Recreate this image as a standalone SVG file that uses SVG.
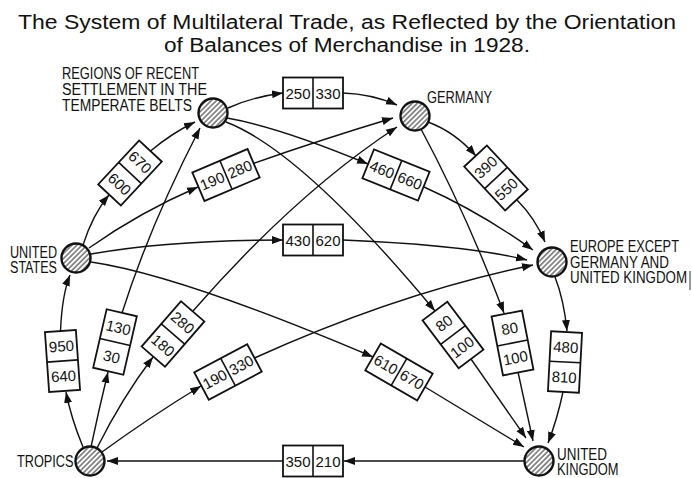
<svg xmlns="http://www.w3.org/2000/svg" width="692" height="478" viewBox="0 0 692 478">
<style>
.t{font-family:"Liberation Sans",Arial,sans-serif;fill:#111}
.title{font-size:20px}
.lab{font-size:16px}
.bx rect{fill:#fff;stroke:#111;stroke-width:1.8}
.bx line{stroke:#111;stroke-width:1.6}
.bx text{font-family:"Liberation Sans",Arial,sans-serif;font-size:15px;text-anchor:middle;fill:#111}
.c path{fill:none;stroke:#111;stroke-width:1.4}
.ar{marker-end:url(#ah)}
.node circle{fill:url(#hatch);stroke:#111;stroke-width:2.4}
</style>
<defs>
<pattern id="hatch" patternUnits="userSpaceOnUse" width="3.6" height="3.6" patternTransform="rotate(45)">
<rect width="3.6" height="3.6" fill="#fff"/>
<line x1="0.9" y1="0" x2="0.9" y2="3.6" stroke="#555" stroke-width="1.3"/>
</pattern>
<marker id="ah" markerUnits="userSpaceOnUse" markerWidth="12" markerHeight="10" refX="11" refY="4.5" orient="auto">
<path d="M0,0.5 L11,4.5 L0,8.5 z" fill="#111"/>
</marker>
</defs>
<rect width="692" height="478" fill="#fff"/>
<g id="title" class="t title">
<text x="18" y="29" textLength="658" lengthAdjust="spacingAndGlyphs">The System of Multilateral Trade, as Reflected by the Orientation</text>
<text x="164" y="52" textLength="366" lengthAdjust="spacingAndGlyphs">of Balances of Merchandise in 1928.</text>
</g>
<g id="connectors" class="c">
<path class="ar" d="M228,108 Q252,97 283,93"/>
<path class="ar" d="M343,93 Q372,94 397,105"/>
<path class="ar" d="M227,118 Q279,127 368,164"/>
<path class="ar" d="M424,187 Q480,212 533,250"/>
<path class="ar" d="M226,122 Q302,151 435,311"/>
<path class="ar" d="M471,359 L526,438"/>
<path class="ar" d="M428,122 Q455,132 476,156"/>
<path class="ar" d="M517,200 Q535,218 545,242"/>
<path class="ar" d="M421,129 Q466,213 504,313"/>
<path class="ar" d="M518,372 L533,441"/>
<path class="ar" d="M555,277 Q564,300 567,331"/>
<path class="ar" d="M563,392 Q557,420 548,443"/>
<path class="ar" d="M83,245 Q93,214 109,195"/>
<path class="ar" d="M150.5,151 Q172,133 195,122"/>
<path class="ar" d="M89,248 Q140,212 198,187"/>
<path class="ar" d="M253.6,163.3 Q320,140 393,118"/>
<path class="ar" d="M91,254 Q170,240 283,240"/>
<path class="ar" d="M343,240 Q466,245 527,260"/>
<path class="ar" d="M91,262 Q180,275 373,357"/>
<path class="ar" d="M425,387 L524,447"/>
<path class="ar" d="M83,447 Q71,418 66,392"/>
<path class="ar" d="M60.5,331 Q62,295 70,275"/>
<path class="ar" d="M91,447 Q99,409 108,372"/>
<path class="ar" d="M122,313 Q150,225 200,128"/>
<path class="ar" d="M97,448 Q122,398 153,357"/>
<path class="ar" d="M193,311 Q296,193 397,127"/>
<path class="ar" d="M102,452 Q150,417 201,386"/>
<path class="ar" d="M254.5,358 Q398,293 533,265"/>
<path class="ar" d="M524,461 L344,461"/>
<path class="ar" d="M283,461 L107,461"/>
</g>
<g id="boxes">
<g id="b-r-g" class="bx" transform="translate(313,93)"><rect x="-30" y="-15.5" width="60" height="31"/><line x1="0" y1="-15.5" x2="0" y2="15.5"/><text x="-15" y="5.5">250</text><text x="15" y="5.5">330</text></g>
<g id="b-r-e" class="bx" transform="translate(396,175) rotate(22)"><rect x="-30" y="-15.5" width="60" height="31"/><line x1="0" y1="-15.5" x2="0" y2="15.5"/><text x="-15" y="5.5">460</text><text x="15" y="5.5">660</text></g>
<g id="b-r-uk" class="bx" transform="translate(453,335) rotate(-37)"><rect x="-15.5" y="-30" width="31" height="60"/><line x1="-15.5" y1="0" x2="15.5" y2="0"/><text x="0" y="-9.5">80</text><text x="0" y="20.5">100</text></g>
<g id="b-g-e" class="bx" transform="translate(496,178) rotate(-43)"><rect x="-15.5" y="-30" width="31" height="60"/><line x1="-15.5" y1="0" x2="15.5" y2="0"/><text x="0" y="-9.5">390</text><text x="0" y="20.5">550</text></g>
<g id="b-g-uk" class="bx" transform="translate(512.5,343) rotate(-11)"><rect x="-15.5" y="-30" width="31" height="60"/><line x1="-15.5" y1="0" x2="15.5" y2="0"/><text x="0" y="-9.5">80</text><text x="0" y="20.5">100</text></g>
<g id="b-e-uk" class="bx" transform="translate(565,362) rotate(3)"><rect x="-15.5" y="-30" width="31" height="60"/><line x1="-15.5" y1="0" x2="15.5" y2="0"/><text x="0" y="-9.5">480</text><text x="0" y="20.5">810</text></g>
<g id="b-us-r" class="bx" transform="translate(130,173) rotate(43)"><rect x="-15.5" y="-30" width="31" height="60"/><line x1="-15.5" y1="0" x2="15.5" y2="0"/><text x="0" y="-9.5">670</text><text x="0" y="20.5">600</text></g>
<g id="b-us-g" class="bx" transform="translate(226,175) rotate(-23)"><rect x="-30" y="-15.5" width="60" height="31"/><line x1="0" y1="-15.5" x2="0" y2="15.5"/><text x="-15" y="5.5">190</text><text x="15" y="5.5">280</text></g>
<g id="b-us-e" class="bx" transform="translate(313,240)"><rect x="-30" y="-15.5" width="60" height="31"/><line x1="0" y1="-15.5" x2="0" y2="15.5"/><text x="-15" y="5.5">430</text><text x="15" y="5.5">620</text></g>
<g id="b-us-uk" class="bx" transform="translate(399,372) rotate(30)"><rect x="-30" y="-15.5" width="60" height="31"/><line x1="0" y1="-15.5" x2="0" y2="15.5"/><text x="-15" y="5.5">610</text><text x="15" y="5.5">670</text></g>
<g id="b-t-us" class="bx" transform="translate(62.5,361) rotate(-4)"><rect x="-15.5" y="-30" width="31" height="60"/><line x1="-15.5" y1="0" x2="15.5" y2="0"/><text x="0" y="-9.5">950</text><text x="0" y="20.5">640</text></g>
<g id="b-t-r" class="bx" transform="translate(115,342) rotate(13)"><rect x="-15.5" y="-30" width="31" height="60"/><line x1="-15.5" y1="0" x2="15.5" y2="0"/><text x="0" y="-9.5">130</text><text x="0" y="20.5">30</text></g>
<g id="b-t-g" class="bx" transform="translate(173,334) rotate(41)"><rect x="-15.5" y="-30" width="31" height="60"/><line x1="-15.5" y1="0" x2="15.5" y2="0"/><text x="0" y="-9.5">280</text><text x="0" y="20.5">180</text></g>
<g id="b-t-e" class="bx" transform="translate(228,372) rotate(-28)"><rect x="-30" y="-15.5" width="60" height="31"/><line x1="0" y1="-15.5" x2="0" y2="15.5"/><text x="-15" y="5.5">190</text><text x="15" y="5.5">330</text></g>
<g id="b-uk-t" class="bx" transform="translate(313,461)"><rect x="-30" y="-15.5" width="60" height="31"/><line x1="0" y1="-15.5" x2="0" y2="15.5"/><text x="-15" y="5.5">350</text><text x="15" y="5.5">210</text></g>
</g>
<g id="n-regions" class="node"><circle cx="213" cy="113" r="14.5"/>
<g class="t lab"><text x="62" y="79" textLength="137" lengthAdjust="spacingAndGlyphs">REGIONS OF RECENT</text><text x="62" y="94.5" textLength="145" lengthAdjust="spacingAndGlyphs">SETTLEMENT IN THE</text><text x="62" y="110.5" textLength="130" lengthAdjust="spacingAndGlyphs">TEMPERATE BELTS</text></g></g>
<g id="n-germany" class="node"><circle cx="415" cy="116" r="14.5"/>
<text class="t lab" x="427" y="103" textLength="65" lengthAdjust="spacingAndGlyphs">GERMANY</text></g>
<g id="n-us" class="node"><circle cx="76" cy="258" r="14.5"/>
<g class="t lab"><text x="10" y="258.3" textLength="47" lengthAdjust="spacingAndGlyphs">UNITED</text><text x="10" y="272.7" textLength="47" lengthAdjust="spacingAndGlyphs">STATES</text></g></g>
<g id="n-europe" class="node"><circle cx="552" cy="262" r="14.5"/>
<g class="t lab"><text x="570" y="252" textLength="109" lengthAdjust="spacingAndGlyphs">EUROPE EXCEPT</text><text x="570" y="267.5" textLength="99" lengthAdjust="spacingAndGlyphs">GERMANY AND</text><text x="570" y="283.3" textLength="117" lengthAdjust="spacingAndGlyphs">UNITED KINGDOM</text></g>
<line x1="690" y1="271" x2="690" y2="290" stroke="#333" stroke-width="1"/></g>
<g id="n-tropics" class="node"><circle cx="90" cy="461" r="14.5"/>
<text class="t lab" x="17" y="466.7" textLength="56.5" lengthAdjust="spacingAndGlyphs">TROPICS</text></g>
<g id="n-uk" class="node"><circle cx="539" cy="461" r="14.5"/>
<g class="t lab"><text x="557" y="460" textLength="50" lengthAdjust="spacingAndGlyphs">UNITED</text><text x="557" y="475" textLength="61.5" lengthAdjust="spacingAndGlyphs">KINGDOM</text></g></g>
</svg>
